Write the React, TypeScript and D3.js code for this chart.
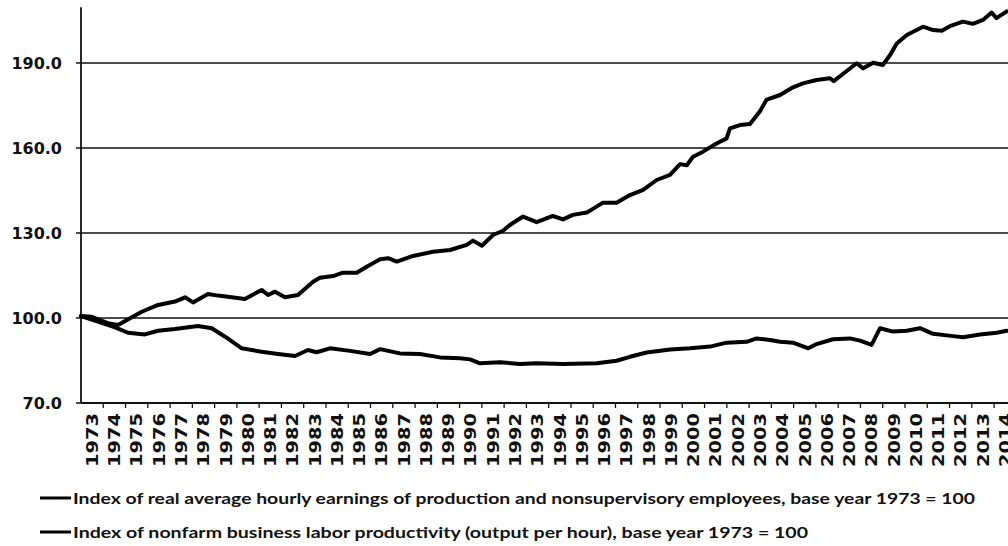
import React from 'react';
import * as d3 from 'd3';

// year labels along the bottom axis
const yearLabels = [
  '1973', '1974', '1975', '1976', '1977', '1978', '1979', '1980', '1981', '1982',
  '1983', '1984', '1985', '1986', '1987', '1988', '1989', '1990', '1991', '1992',
  '1993', '1994', '1995', '1996', '1997', '1998', '1999', '2000', '2001', '2002',
  '2003', '2004', '2005', '2006', '2007', '2008', '2009', '2010', '2011', '2012',
  '2013', '2014'
];

const yTicks = [70, 100, 130, 160, 190];
const gridValues = [100, 130, 160, 190];

// productivity index (upper line)
const prodYears = [
  1973.0, 1973.48, 1974.21, 1974.66, 1975.73, 1976.46, 1977.22, 1977.67, 1978.03, 1978.7,
  1979.15, 1979.77, 1980.36, 1981.11, 1981.4, 1981.71, 1982.16, 1982.74, 1983.42, 1983.73,
  1984.32, 1984.76, 1985.38, 1985.83, 1986.43, 1986.79, 1987.18, 1987.91, 1988.81, 1989.57,
  1990.32, 1990.6, 1991.0, 1991.5, 1991.95, 1992.26, 1992.85, 1993.46, 1994.19, 1994.64,
  1995.09, 1995.71, 1996.44, 1997.05, 1997.65, 1998.24, 1998.85, 1999.45, 1999.9, 2000.2,
  2000.48, 2000.93, 2001.54, 2001.99, 2002.14, 2002.59, 2003.04, 2003.49, 2003.79, 2004.39,
  2004.97, 2005.42, 2006.03, 2006.63, 2006.8, 2007.21, 2007.83, 2008.12, 2008.57, 2009.01,
  2009.33, 2009.63, 2010.08, 2010.81, 2011.26, 2011.65, 2012.02, 2012.6, 2013.05, 2013.5,
  2013.89, 2014.11, 2014.57
];
const prodValues = [
  100.7, 100.4, 98.2, 97.5, 102.2, 104.6, 105.8, 107.3, 105.5, 108.5,
  107.9, 107.3, 106.7, 109.9, 108.1, 109.3, 107.3, 108.1, 112.8, 114.2,
  114.8, 116.0, 116.0, 118.1, 120.7, 121.1, 119.9, 121.9, 123.4, 124.0,
  125.8, 127.3, 125.5, 129.3, 130.8, 132.8, 135.8, 133.8, 136.0, 134.8,
  136.4, 137.2, 140.7, 140.7, 143.4, 145.2, 148.7, 150.5, 154.3, 153.9,
  156.9, 158.7, 161.6, 163.4, 166.9, 168.1, 168.5, 173.0, 177.1, 178.7,
  181.4, 182.8, 184.0, 184.6, 183.6, 186.1, 189.9, 188.1, 190.1, 189.3,
  192.8, 196.9, 199.9, 202.8, 201.6, 201.4, 203.0, 204.6, 203.8, 205.2,
  207.8, 205.8, 208.2
];

// real hourly earnings index (lower line)
const wageYears = [
  1973.0, 1973.76, 1974.53, 1975.11, 1975.87, 1976.46, 1977.22, 1978.25, 1978.87, 1979.47,
  1980.22, 1981.11, 1981.85, 1982.61, 1983.19, 1983.58, 1984.18, 1985.08, 1985.98, 1986.43,
  1987.32, 1988.22, 1989.12, 1990.02, 1990.47, 1990.92, 1991.81, 1992.71, 1993.46, 1994.64,
  1996.16, 1997.05, 1997.65, 1998.4, 1999.45, 2000.35, 2001.25, 2001.99, 2002.89, 2003.34,
  2003.94, 2004.39, 2004.97, 2005.66, 2006.03, 2006.77, 2007.53, 2007.98, 2008.5, 2008.88,
  2009.46, 2010.08, 2010.67, 2011.26, 2012.16, 2012.6, 2013.37, 2014.11, 2014.57
];
const wageValues = [
  100.7, 98.7, 96.7, 94.8, 94.2, 95.5, 96.1, 97.2, 96.4, 93.4,
  89.3, 88.1, 87.3, 86.6, 88.7, 87.9, 89.3, 88.4, 87.3, 89.0,
  87.5, 87.3, 86.1, 85.8, 85.4, 84.0, 84.4, 83.8, 84.0, 83.8,
  84.0, 84.9, 86.3, 87.8, 88.9, 89.3, 89.9, 91.3, 91.6, 92.8,
  92.2, 91.6, 91.3, 89.3, 90.8, 92.5, 92.8, 92.0, 90.5, 96.4,
  95.2, 95.5, 96.4, 94.4, 93.6, 93.2, 94.2, 94.8, 95.5
];

const legendItems = [
  'Index of real average hourly earnings of production and nonsupervisory employees, base year 1973 = 100',
  'Index of nonfarm business labor productivity (output per hour), base year 1973 = 100'
];

const W = 1008;
const H = 546;
const left = 81;
const bottom = 403;
const yearStep = 22.27;

export default function App() {
  const x = d3.scaleLinear().domain([1973, 2015]).range([left, left + 42 * yearStep]);
  const y = d3.scaleLinear().domain([70, 210]).range([bottom, 6.3]);

  const line = d3.line<[number, number]>()
    .x(d => x(d[0]))
    .y(d => y(d[1]));

  const prod = prodYears.map((t, i) => [t, prodValues[i]] as [number, number]);
  const wage = wageYears.map((t, i) => [t, wageValues[i]] as [number, number]);

  return (
    <svg width={W} height={H} style={{ position: 'absolute', left: 0, top: 0, background: '#fff' }}>
      <rect width={W} height={H} fill="#fff" />
      {/* gridlines */}
      {gridValues.map(v => (
        <line key={v} x1={left} x2={W} y1={y(v)} y2={y(v)} stroke="#111" strokeWidth={1.6} />
      ))}
      {/* axes */}
      <line x1={left} x2={W} y1={bottom} y2={bottom} stroke="#111" strokeWidth={1.8} />
      <line x1={left} x2={left} y1={y(210) + 1} y2={bottom} stroke="#111" strokeWidth={1.8} />
      {yTicks.map(v => (
        <g key={v}>
          <line x1={left - 5} x2={left} y1={y(v)} y2={y(v)} stroke="#111" strokeWidth={1.5} />
          <text x={62} y={y(v)} dy="0.4em" textAnchor="end"
            fontFamily="DejaVu Sans" fontWeight="bold" fontSize={16} fill="#111">
            {v.toFixed(1)}
          </text>
        </g>
      ))}
      {yearLabels.map((lab, i) => {
        const t = 1973 + i;
        const cx = x(t + 0.5);
        return (
          <g key={lab}>
            <line x1={x(t + 1)} x2={x(t + 1)} y1={bottom} y2={bottom + 5} stroke="#111" strokeWidth={1.3} />
            <text transform={`translate(${cx},${bottom + 10}) rotate(-90)`} dy="0.36em" textAnchor="end"
              fontFamily="DejaVu Sans" fontWeight="bold" fontSize={16} fill="#111"
              textLength={54} lengthAdjust="spacingAndGlyphs">
              {lab}
            </text>
          </g>
        );
      })}
      {/* series */}
      <path d={line(wage) || ''} fill="none" stroke="#000" strokeWidth={4} strokeLinejoin="round" strokeLinecap="round" />
      <path d={line(prod) || ''} fill="none" stroke="#000" strokeWidth={4} strokeLinejoin="round" strokeLinecap="round" />
      {/* legend */}
      {legendItems.map((txt, i) => {
        const ly = 498 + i * 34;
        return (
          <g key={i}>
            <line x1={40} x2={71} y1={ly} y2={ly} stroke="#000" strokeWidth={3} />
            <text x={73} y={ly} dy="0.35em" fontFamily="Lato" fontWeight="bold" fontSize={16} fill="#111"
              textLength={i === 0 ? 902 : 735} lengthAdjust="spacingAndGlyphs">
              {txt}
            </text>
          </g>
        );
      })}
    </svg>
  );
}
